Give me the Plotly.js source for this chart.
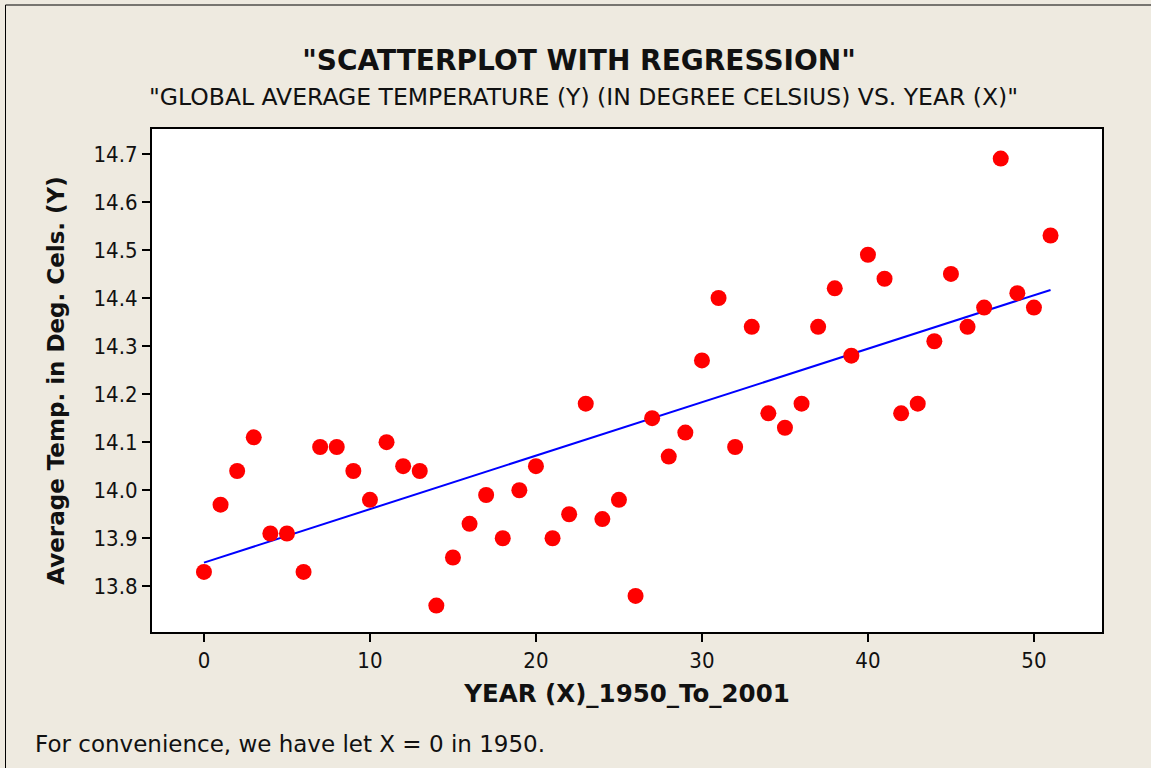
<!DOCTYPE html>
<html>
<head>
<meta charset="utf-8">
<script src="https://cdn.plot.ly/plotly-3.0.1.min.js"></script>
<style>
  html, body { margin: 0; padding: 0; background: #EEEAE0; }
  #chart { width: 1151px; height: 768px; }
</style>
</head>
<body>
<div id="chart"></div>
<script>
// Year index (X = 0 in 1950)
const years = [0,1,2,3,4,5,6,7,8,9,10,11,12,13,14,15,16,17,18,19,20,21,22,23,24,25,
               26,27,28,29,30,31,32,33,34,35,36,37,38,39,40,41,42,43,44,45,46,47,48,49,50,51];
// Global average temperature (deg C)
const temps = [13.83,13.97,14.04,14.11,13.91,13.91,13.83,14.09,14.09,14.04,13.98,14.10,14.05,14.04,
               13.76,13.86,13.93,13.99,13.90,14.00,14.05,13.90,13.95,14.18,13.94,13.98,13.78,14.15,
               14.07,14.12,14.27,14.40,14.09,14.34,14.16,14.13,14.18,14.34,14.42,14.28,14.49,14.44,
               14.16,14.18,14.31,14.45,14.34,14.38,14.69,14.41,14.38,14.53];
const xTicks = [0,10,20,30,40,50];
const yTicks = [13.8,13.9,14.0,14.1,14.2,14.3,14.4,14.5,14.6,14.7];

// Least-squares regression fitted to the data above
const n = years.length;
const mx = years.reduce((a,b)=>a+b,0)/n;
const my = temps.reduce((a,b)=>a+b,0)/n;
let sxy = 0, sxx = 0;
for (let i = 0; i < n; i++) { sxy += (years[i]-mx)*(temps[i]-my); sxx += (years[i]-mx)**2; }
const slope = sxy/sxx, intercept = my - slope*mx;
const fitX = [Math.min(...years), Math.max(...years)];
const fitY = fitX.map(x => intercept + slope*x);

const TICKFONT = "'DejaVu Sans Condensed', 'Liberation Sans', Arial, sans-serif";
const FONT = "'DejaVu Sans', 'Liberation Sans', Arial, sans-serif";
const INK = '#111111';

const traces = [
  { x: fitX, y: fitY, type: 'scatter', mode: 'lines',
    line: { color: '#0000FF', width: 2 }, hoverinfo: 'skip', showlegend: false },
  { x: years, y: temps, type: 'scatter', mode: 'markers',
    marker: { color: '#FF0000', size: 16 }, showlegend: false }
];

// plot area: x 152..1102, y 129..632
const W = 950, H = 503;
const px = p => (p - 152) / W;
const py = p => (632 - p) / H;

const layout = {
  width: 1151, height: 768,
  margin: { l: 152, r: 49, t: 129, b: 136 },
  paper_bgcolor: '#EEEAE0', plot_bgcolor: '#FFFFFF',
  font: { family: FONT, color: INK, size: 22 },
  title: { text: '"SCATTERPLOT WITH REGRESSION"', x: 579/1151, xref: 'container', xanchor: 'center',
           y: 1 - 60/768, yref: 'container', yanchor: 'middle',
           font: { family: FONT, size: 28, color: INK, weight: 'bold' } },
  xaxis: {
    range: [-3.13, 54.1], tickvals: xTicks, ticktext: xTicks.map(String),
    ticks: 'outside', ticklen: 8, tickwidth: 2, tickcolor: '#000',
    showline: true, linecolor: '#000', linewidth: 2, mirror: true,
    showgrid: false, zeroline: false,
    tickfont: { family: TICKFONT, size: 22 },
    title: { text: 'YEAR (X)_1950_To_2001', standoff: 12,
             font: { family: FONT, size: 24.5, weight: 'bold' } }
  },
  yaxis: {
    range: [13.705, 14.7516], tickvals: yTicks, ticktext: yTicks.map(v => v.toFixed(1)),
    ticks: 'outside', ticklen: 8, tickwidth: 2, tickcolor: '#000',
    showline: true, linecolor: '#000', linewidth: 2, mirror: true,
    showgrid: false, zeroline: false,
    tickfont: { family: TICKFONT, size: 22 },
    title: { text: 'Average Temp. in Deg. Cels. (Y)', standoff: 22,
             font: { family: FONT, size: 23, weight: 'bold' } }
  },
  annotations: [
    { text: '"GLOBAL AVERAGE TEMPERATURE (Y) (IN DEGREE CELSIUS) VS. YEAR (X)"',
      xref: 'paper', yref: 'paper', x: px(583), y: py(97), xanchor: 'center', yanchor: 'middle',
      showarrow: false, font: { family: FONT, size: 23.5, color: INK } },
    { text: 'For convenience, we have let X = 0 in 1950.',
      xref: 'paper', yref: 'paper', x: px(33), y: py(744), xanchor: 'left', yanchor: 'middle',
      showarrow: false, font: { family: FONT, size: 23, color: INK } }
  ],
  shapes: [
    { type: 'line', xref: 'paper', yref: 'paper', x0: px(5.5), x1: px(5.5), y0: py(5), y1: py(768),
      line: { color: '#000', width: 1 } },
    { type: 'line', xref: 'paper', yref: 'paper', x0: px(5.5), x1: px(1151), y0: py(5), y1: py(5),
      line: { color: '#000', width: 1 } }
  ]
};

Plotly.newPlot('chart', traces, layout, { displayModeBar: false, staticPlot: true });
</script>
</body>
</html>
